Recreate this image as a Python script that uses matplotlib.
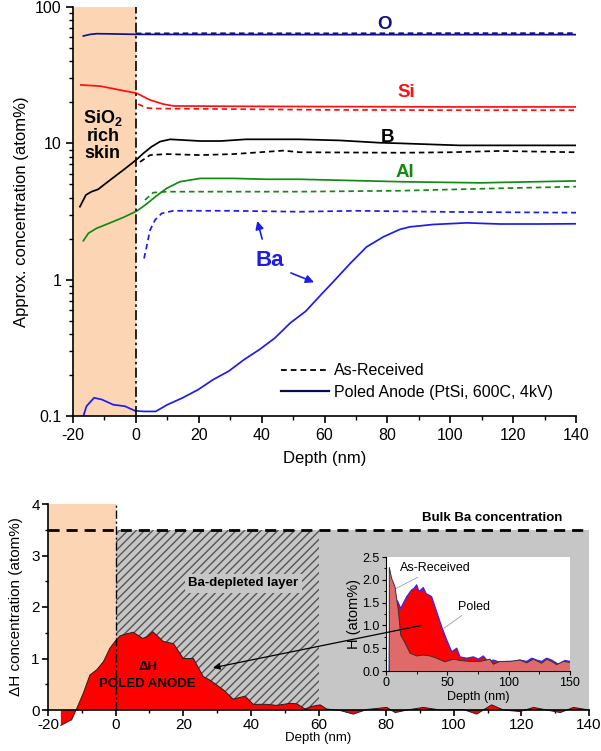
import numpy as np
import matplotlib
matplotlib.use("Agg")
import matplotlib.pyplot as plt
from matplotlib.patches import Rectangle, ConnectionPatch
from matplotlib.lines import Line2D
from matplotlib.ticker import MultipleLocator, LogLocator, FixedLocator, NullFormatter, FormatStrFormatter

plt.rcParams['font.family'] = ['Liberation Sans', 'DejaVu Sans']
plt.rcParams['mathtext.fontset'] = 'custom'
plt.rcParams['mathtext.rm'] = 'Liberation Sans:bold'
plt.rcParams['axes.unicode_minus'] = False
plt.rcParams['hatch.linewidth'] = 1.0

# ---------------- Top chart data (atom%) ----------------
O_pol_x = [-16.7, -14.5, -12.5, -8, 0, 20, 60, 100, 140]
O_pol_y = [61.3, 63.0, 63.7, 63.5, 63.0, 62.8, 62.7, 62.7, 62.7]
O_ar_x = [0, 20, 60, 100, 140]
O_ar_y = [64.0, 64.2, 64.1, 64.3, 64.3]

Si_pol_x = [-17.5, -11.4, -5, 0.3, 4.5, 8.7, 12, 30, 60, 100, 140]
Si_pol_y = [26.8, 26.3, 24.6, 23.3, 20.8, 19.4, 18.8, 18.7, 18.6, 18.5, 18.5]
Si_ar_x = [0.7, 3.5, 6, 20, 60, 100, 140]
Si_ar_y = [19.4, 18.2, 18.0, 17.9, 17.6, 17.5, 17.5]

B_pol_x = [-17.8, -15.9, -14.1, -12, -8.2, -4, -1.3, 0.3, 2.4, 5, 7.7, 10.9, 20.4, 27, 35, 41.6, 52.2, 65, 77.6, 84, 95, 103, 120, 140]
B_pol_y = [3.43, 4.18, 4.42, 4.6, 5.38, 6.37, 7.13, 7.63, 8.45, 9.45, 10.3, 10.7, 10.4, 10.4, 10.7, 10.7, 10.7, 10.5, 10.1, 10.0, 9.8, 9.66, 9.66, 9.66]
B_ar_x = [1.3, 4.5, 9.8, 20.4, 31, 46.9, 52.2, 84, 100, 115.8, 140]
B_ar_y = [7.3, 8.2, 8.34, 8.2, 8.34, 8.84, 8.6, 8.53, 8.6, 8.79, 8.6]

Al_pol_x = [-16.7, -15.1, -12.5, -8.2, -4, 0.3, 3.4, 6.6, 9.8, 14, 20.4, 31, 41.6, 52, 84, 109.4, 140]
Al_pol_y = [1.93, 2.19, 2.38, 2.61, 2.86, 3.19, 3.59, 4.13, 4.68, 5.23, 5.53, 5.53, 5.45, 5.45, 5.23, 5.13, 5.3]
Al_ar_x = [2.9, 5.5, 9.8, 20.4, 52, 84, 115.8, 140]
Al_ar_y = [3.84, 4.35, 4.42, 4.42, 4.42, 4.49, 4.68, 4.81]

Ba_pol_x = [-16.7, -15.7, -13.3, -10.8, -7.2, -3.5, -0.2, 2.6, 6.3, 10, 14.9, 19.8, 24.6, 29.5, 34.4, 39.3, 44.2, 49.1, 54, 58.9, 62.8, 68.1, 73.4, 78.7, 84, 87.2, 94.6, 105.2, 115.8, 128, 140]
Ba_pol_y = [0.1, 0.118, 0.136, 0.132, 0.121, 0.118, 0.109, 0.108, 0.108, 0.121, 0.136, 0.156, 0.185, 0.213, 0.259, 0.307, 0.373, 0.481, 0.586, 0.776, 0.966, 1.31, 1.74, 2.06, 2.34, 2.44, 2.54, 2.61, 2.56, 2.56, 2.57]
Ba_ar_x = [2.6, 3.4, 4.5, 6.1, 8.2, 11.9, 30, 52, 70, 100, 140]
Ba_ar_y = [1.43, 1.74, 2.31, 2.74, 3.06, 3.2, 3.2, 3.15, 3.2, 3.14, 3.1]

# ---------------- Bottom chart data ----------------
dH_x = [-16.2, -13, -11.7, -9.6, -7.6, -5.6, -3.6, -1.7, -0.2, 1.3, 3.3, 5.2, 8, 9.2, 11, 14.1, 17.1, 20, 23, 25.9, 27.9, 31.9, 34.8, 38.3, 40.7, 44.7, 47.6, 51.6, 53.6, 56, 58, 60.5, 62.4, 66.4, 70.3, 74.3, 80.2, 82.7, 86.2, 91, 96, 102.8, 106.8, 111.2, 114.7, 119.6, 123.6, 127.5, 131.5, 135.4, 140]
dH_y = [-0.30, -0.19, 0.0, 0.32, 0.68, 0.78, 0.94, 1.20, 1.33, 1.44, 1.48, 1.51, 1.39, 1.42, 1.52, 1.33, 1.29, 1.00, 1.00, 0.65, 0.58, 0.39, 0.21, 0.27, 0.11, 0.11, 0.09, 0.13, 0.12, 0.02, 0.07, 0.10, 0.02, -0.01, -0.08, 0.01, 0.05, -0.05, 0.0, 0.05, 0.0, 0.01, -0.08, 0.10, 0.0, -0.03, 0.05, 0.0, -0.05, 0.05, 0.0]
bulk_ba = 3.5

# Inset data: H (atom%)
H_pol_x = [2.7, 3.3, 5, 8.2, 9.5, 12, 13.6, 16.9, 20.9, 22.8, 25, 26.9, 30.4, 32.6, 37.2, 41.3, 45.4, 48.9, 53.6, 57.7, 60.3, 65.8, 71.2, 75.3, 79.3, 83.4, 87.5, 92.9, 98.4, 103.8, 109.2, 114.7, 118.8, 122.8, 126.9, 131, 135, 140.5, 145.9, 150]
H_pol_y = [0.0, 1.89, 1.74, 1.56, 1.53, 1.37, 1.46, 1.63, 1.78, 1.81, 1.89, 1.74, 1.83, 1.70, 1.63, 1.30, 0.97, 0.72, 0.42, 0.50, 0.31, 0.28, 0.31, 0.26, 0.33, 0.20, 0.24, 0.19, 0.21, 0.21, 0.24, 0.21, 0.28, 0.24, 0.21, 0.28, 0.24, 0.15, 0.23, 0.21]
H_ar_x = [2.6, 2.7, 4.6, 7.3, 10, 12, 15.6, 19.6, 25, 30.4, 35.9, 41.3, 48.1, 54.9, 60.3, 68.5, 76.6, 84.8, 87.5, 92.9, 101, 109.2, 114.7, 120.1, 126.9, 131, 135, 139.1, 144.6, 150]
H_ar_y = [0.0, 2.27, 2.03, 1.85, 1.34, 0.79, 0.61, 0.39, 0.33, 0.35, 0.33, 0.28, 0.20, 0.26, 0.23, 0.21, 0.21, 0.26, 0.15, 0.21, 0.21, 0.24, 0.18, 0.26, 0.17, 0.26, 0.21, 0.14, 0.21, 0.19]

C_O = '#10108a'
C_SI = '#ff1010'
C_B = '#000000'
C_AL = '#138a13'
C_BA = '#1c1cf0'
PEACH = '#fcd6b4'
GRAY = '#c6c6c6'

fig = plt.figure(figsize=(6.01, 7.51), dpi=100)

# ================= TOP =================
ax = fig.add_axes([73/601, 1-416/751, 503/601, 409/751])
ax.set_yscale('log')
ax.set_xlim(-20, 140)
ax.set_ylim(0.1, 100)
ax.axvspan(-20, 0, color=PEACH, lw=0, zorder=0)
ax.axvline(0, color='k', lw=1.2, ls=(0, (6, 2, 1.5, 2)), zorder=3)

dash = (0, (3.2, 2.2))
lw = 1.25
for xs, ys, c in [(O_pol_x, O_pol_y, C_O), (Si_pol_x, Si_pol_y, C_SI), (B_pol_x, B_pol_y, C_B),
                  (Al_pol_x, Al_pol_y, C_AL), (Ba_pol_x, Ba_pol_y, C_BA)]:
    ax.plot(xs, ys, color=c, lw=lw, zorder=2)
for xs, ys, c in [(O_ar_x, O_ar_y, C_O), (Si_ar_x, Si_ar_y, C_SI), (B_ar_x, B_ar_y, C_B),
                  (Al_ar_x, Al_ar_y, C_AL), (Ba_ar_x, Ba_ar_y, C_BA)]:
    ax.plot(xs, ys, color=c, lw=lw, ls=dash, zorder=2)

ax.text(79.2, 73.8, 'O', color=C_O, fontsize=13.5, fontweight='bold', ha='center', va='center')
ax.text(86, 23.4, 'Si', color=C_SI, fontsize=13.5, fontweight='bold', ha='center', va='center')
ax.text(79.9, 11.1, 'B', color=C_B, fontsize=13.5, fontweight='bold', ha='center', va='center')
ax.text(85.6, 6.15, 'Al', color=C_AL, fontsize=13.5, fontweight='bold', ha='center', va='center')
ax.text(42.7, 1.39, 'Ba', color=C_BA, fontsize=16, fontweight='bold', ha='center', va='center')
ax.annotate('', xy=(38.4, 2.82), xytext=(40.4, 1.9),
            arrowprops=dict(arrowstyle='-|>', color=C_BA, lw=1.2, mutation_scale=12))
ax.annotate('', xy=(57.5, 0.94), xytext=(48.5, 1.14),
            arrowprops=dict(arrowstyle='-|>', color=C_BA, lw=1.2, mutation_scale=12))
ax.text(-10.5, 11.5, 'SiO$_{2}$\nrich\nskin', fontsize=13, fontweight='bold', ha='center', va='center',
        linespacing=1.0)

h1 = Line2D([], [], color='k', lw=1.3, ls=dash)
h2 = Line2D([], [], color='#0a0a50', lw=1.6)
ax.legend([h1, h2], ['As-Received', 'Poled Anode (PtSi, 600C, 4kV)'], loc='lower left',
          bbox_to_anchor=(0.385, 0.005), frameon=False, fontsize=11.5, handlelength=3.0,
          handletextpad=0.3, labelspacing=0.4)

for s in ['top', 'right']:
    ax.spines[s].set_visible(False)
for s in ['left', 'bottom']:
    ax.spines[s].set_linewidth(1.2)
ax.xaxis.set_major_locator(MultipleLocator(20))
ax.xaxis.set_minor_locator(MultipleLocator(10))
ax.yaxis.set_major_locator(FixedLocator([0.1, 1, 10, 100]))
ax.set_yticklabels(['0.1', '1', '10', '100'])
ax.yaxis.set_minor_locator(LogLocator(base=10, subs=np.arange(2, 10)))
ax.yaxis.set_minor_formatter(NullFormatter())
ax.tick_params(which='major', direction='out', length=5, width=1.2, labelsize=11.5)
ax.tick_params(which='minor', direction='out', length=3, width=1.0)
ax.set_xlabel('Depth (nm)', fontsize=12, labelpad=6)
ax.set_ylabel('Approx. concentration (atom%)', fontsize=12, labelpad=4)

# ================= BOTTOM =================
ax2 = fig.add_axes([48/601, 1-710/751, 541/601, 206/751])
ax2.set_xlim(-20, 140)
ax2.set_ylim(0, 4)
ax2.add_patch(Rectangle((-20, 0), 20, 4, facecolor=PEACH, lw=0, zorder=0))
ax2.add_patch(Rectangle((0, 0), 140, bulk_ba, facecolor=GRAY, lw=0, zorder=0))
ax2.add_patch(Rectangle((0, 0), 60, bulk_ba, facecolor='none', edgecolor='#555555', hatch='////', lw=0, zorder=1))
ax2.fill_between(dH_x, 0, dH_y, facecolor='#ff0000', edgecolor='none', zorder=2, clip_on=False)
ax2.plot(dH_x, dH_y, color='#202020', lw=0.7, zorder=2.5, clip_on=False)
ax2.axhline(bulk_ba, color='k', lw=2.0, ls=(0, (4, 2.5)), zorder=3)
ax2.plot([0, 0], [0, 4], color='k', lw=1.0, ls=(0, (6, 2, 1.5, 2)), zorder=3)
ax2.text(111.3, 3.72, 'Bulk Ba concentration', fontsize=9.5, fontweight='bold', ha='center', va='center')
ax2.text(37.8, 2.46, 'Ba-depleted layer', fontsize=9.5, fontweight='bold', ha='center', va='center',
         bbox=dict(facecolor=GRAY, edgecolor='none', pad=2.5), zorder=4)
ax2.text(9.5, 0.67, '\u0394H\nPOLED ANODE', fontsize=9.5, fontweight='bold', ha='center', va='center',
         linespacing=1.5, zorder=4)

for s in ['top', 'right']:
    ax2.spines[s].set_visible(False)
for s in ['left', 'bottom']:
    ax2.spines[s].set_linewidth(1.2)
ax2.xaxis.set_major_locator(MultipleLocator(20))
ax2.xaxis.set_minor_locator(MultipleLocator(10))
ax2.yaxis.set_major_locator(MultipleLocator(1))
ax2.yaxis.set_minor_locator(MultipleLocator(0.5))
ax2.tick_params(which='major', direction='out', length=4, width=1.2, labelsize=11, pad=2)
ax2.tick_params(which='minor', direction='out', length=2.5, width=1.0)
ax2.set_xlabel('Depth (nm)', fontsize=9.5, labelpad=0)
ax2.set_ylabel('\u0394H concentration (atom%)', fontsize=11, labelpad=6)

# ================= INSET =================
axi = fig.add_axes([386/601, 1-671/751, 184/601, 114/751])
axi.set_xlim(0, 150)
axi.set_ylim(0, 2.5)
axi.set_facecolor('white')
axi.fill_between(H_pol_x, 0, H_pol_y, facecolor='#ff0000', edgecolor='none', zorder=1)
axi.plot(H_pol_x, H_pol_y, color='#2a2aff', lw=0.9, zorder=2)
axi.fill_between(H_ar_x, 0, H_ar_y, facecolor='#e06a6a', edgecolor='none', zorder=3)
axi.plot(H_ar_x, H_ar_y, color='#333333', lw=0.7, zorder=4)
axi.annotate('As-Received', xy=(6, 1.78), xytext=(11, 2.25), fontsize=9, va='center', ha='left',
             arrowprops=dict(arrowstyle='-', color='#9a9ab0', lw=0.6, shrinkA=0, shrinkB=0))
axi.annotate('Poled', xy=(47.3, 0.94), xytext=(59, 1.41), fontsize=9, va='center', ha='left',
             arrowprops=dict(arrowstyle='-', color='#9a9ab0', lw=0.6, shrinkA=0, shrinkB=0))
for s in ['top', 'right']:
    axi.spines[s].set_visible(False)
axi.xaxis.set_major_locator(MultipleLocator(50))
axi.xaxis.set_minor_locator(MultipleLocator(25))
axi.yaxis.set_major_locator(MultipleLocator(0.5))
axi.yaxis.set_minor_locator(MultipleLocator(0.25))
axi.yaxis.set_major_formatter(FormatStrFormatter('%.1f'))
axi.tick_params(which='major', direction='out', length=3, width=0.8, labelsize=9, pad=1.5)
axi.tick_params(which='minor', direction='out', length=1.8, width=0.7)
axi.set_xlabel('Depth (nm)', fontsize=9, labelpad=1)
axi.set_ylabel('H (atom%)', fontsize=10.5, labelpad=1)

con = ConnectionPatch(xyA=(29, 1.0), coordsA=axi.transData, xyB=(28.8, 0.82), coordsB=ax2.transData,
                      arrowstyle='-|>', color='k', lw=0.9, mutation_scale=10, zorder=10)
fig.add_artist(con)

fig.savefig('out.png', dpi=100)
